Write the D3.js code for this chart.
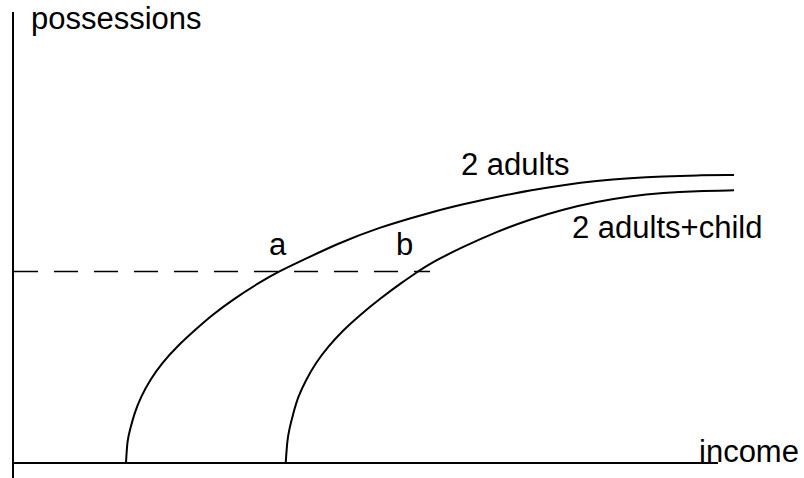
<!DOCTYPE html>
<html>
<head>
<meta charset="utf-8">
<script src="https://cdn.jsdelivr.net/npm/d3@7"></script>
<style>
  html, body { margin: 0; padding: 0; background: #fff; }
  svg { display: block; }
  text { font-family: "Liberation Sans", Arial, sans-serif; fill: #000; }
</style>
</head>
<body>
<svg id="chart" width="804" height="478"></svg>
<script>
// ---- data (income, possessions) in arbitrary chart units ----
const twoAdultsIncome = [113, 114.3, 117, 121.3, 128, 137, 148.7, 163.7, 182, 199, 221.6, 247.7, 266.8, 287, 323.7, 363.7, 417, 450.3, 483.7, 517, 550.3, 583.7, 617, 650.3, 683.7, 721];
const twoAdultsPoss   = [0, 23, 33, 49.7, 66.3, 83, 99.7, 116.3, 133, 148, 164.7, 181.3, 192, 201.5, 219, 235, 250.5, 259, 266, 272.7, 278, 282.3, 285, 286.7, 287.7, 288];
const withChildIncome = [272.7, 274.3, 276.1, 280.3, 285, 293, 302.5, 315, 330.4, 347, 367.5, 390, 406, 417, 450.3, 483.7, 517, 550.3, 583.7, 617, 650.3, 683.7, 721];
const withChildPoss   = [0, 23, 33, 49.7, 66.3, 83, 99.7, 116.3, 133, 148, 164.7, 181.3, 192, 199.7, 216.3, 231.3, 243.7, 253.7, 261.3, 267, 270.3, 272, 272.7];
const referenceLevel  = 191.5;   // dashed possessions level
const referenceStart  = 1;
const referenceEnd    = 417;     // dashed line reaches this income
const axisXEnd        = 705;     // income axis length
const axisYTop        = 451;     // possessions axis top
const axisYBottom     = -15;     // y axis extends below origin
const seriesLabels    = ["2 adults", "2 adults+child"];
const pointLabels     = ["a", "b"];
const axisLabels      = ["income", "possessions"];

// ---- scales ----
const x = d3.scaleLinear().domain([0, 780]).range([13, 793]);
const y = d3.scaleLinear().domain([0, 450]).range([463, 13]);

const svg = d3.select("#chart");

// axes
svg.append("line")
  .attr("x1", x(0)).attr("x2", x(0))
  .attr("y1", y(axisYTop)).attr("y2", y(axisYBottom))
  .attr("stroke", "#000").attr("stroke-width", 2);
svg.append("line")
  .attr("x1", x(0)).attr("x2", x(axisXEnd))
  .attr("y1", y(0)).attr("y2", y(0))
  .attr("stroke", "#000").attr("stroke-width", 2);

// dashed reference line
svg.append("line")
  .attr("x1", x(referenceStart)).attr("x2", x(referenceEnd))
  .attr("y1", y(referenceLevel)).attr("y2", y(referenceLevel))
  .attr("stroke", "#000").attr("stroke-width", 1.3)
  .attr("stroke-dasharray", "24,16");

// curves
const line = d3.line()
  .x(d => x(d[0])).y(d => y(d[1]))
  .curve(d3.curveBasis);

const series = [
  d3.zip(twoAdultsIncome, twoAdultsPoss),
  d3.zip(withChildIncome, withChildPoss)
];
svg.selectAll("path.curve").data(series).enter().append("path")
  .attr("class", "curve")
  .attr("d", line)
  .attr("fill", "none")
  .attr("stroke", "#000")
  .attr("stroke-width", 2);

// texts
const fs = 31;
svg.append("text").attr("x", 31).attr("y", 29).attr("font-size", fs).text(axisLabels[1]);
svg.append("text").attr("x", 699).attr("y", 462).attr("font-size", fs).text(axisLabels[0]);
svg.append("text").attr("x", 461).attr("y", 175).attr("font-size", fs).text(seriesLabels[0]);
svg.append("text").attr("x", 572).attr("y", 238).attr("font-size", fs).text(seriesLabels[1]);
svg.append("text").attr("x", 269).attr("y", 255).attr("font-size", fs).text(pointLabels[0]);
svg.append("text").attr("x", 396).attr("y", 255).attr("font-size", fs).text(pointLabels[1]);
</script>
</body>
</html>
